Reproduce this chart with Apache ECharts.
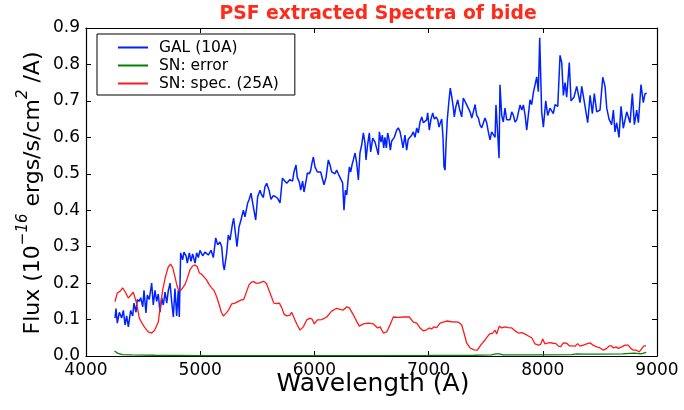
<!DOCTYPE html>
<html><head><meta charset="utf-8">
<script src="https://cdn.jsdelivr.net/npm/echarts@6/dist/echarts.min.js"></script>
<style>html,body{margin:0;padding:0;background:#fff}#c{width:684px;height:410px}</style>
</head><body><div id="c"></div>
<script>
const titleText = 'PSF extracted Spectra of bide';
const seriesNames = ['GAL (10A)', 'SN: error', 'SN: spec. (25A)'];
const xTicks = [4000, 5000, 6000, 7000, 8000, 9000];
const yTicks = [0.0, 0.1, 0.2, 0.3, 0.4, 0.5, 0.6, 0.7, 0.8, 0.9];

const galWave = [4254,4263,4274,4292,4312,4327,4342,4356,4371,4391,4409,4420,4438,4449,4467,4479,4497,4508,4525,4537,4554,4575,4589,4604,4619,4633,4648,4663,4677,4692,4707,4721,4736,4750,4765,4779,4794,4808,4817,4829,4846,4858,4876,4887,4905,4919,4934,4955,4969,4984,4998,5022,5042,
5071,5095,5115,5136,5153,5173,5188,5202,5211,5232,5246,5261,5281,5293,5311,5322,5340,5357,5378,5392,5416,5427,5445,5465,5486,5503,5524,5538,5553,5567,5582,5603,5620,5640,5661,5679,5699,5720,5737,5758,5786,
5809,5821,5839,5850,5868,5880,5897,5909,5927,5938,5956,5968,5979,5991,6005,6026,6043,6055,6073,6084,6102,6122,6137,6151,6166,6180,6195,6209,6224,6239,6247,6259,6271,6283,6297,6306,6318,6329,6341,6356,6370,6385,6399,6414,6429,6443,6452,6464,6481,6493,6511,6531,
6560,6569,6583,6595,6607,6618,6630,6642,6653,6665,6677,6700,6721,6735,6750,6764,6776,6793,6808,6822,6837,6852,6866,6881,6896,6910,6925,6940,6954,6969,6983,6992,7006,7021,7036,7050,7065,7080,7091,7103,7115,7126,7135,7144,7153,7164,7179,7190,7203,7217,7225,7238,7255,7269,
7290,7304,7319,7334,7348,7363,7378,7392,7407,7421,7436,7450,7465,7479,7494,7509,7523,7538,7552,7567,7582,7590,7605,7617,7625,7640,7654,7669,7684,7698,7713,7728,7742,7757,7772,7786,7801,7816,7830,7845,7859,7874,7888,7903,7917,7932,7947,
7961,7973,7990,8005,8026,8043,8063,8092,8107,8131,8151,8166,8180,8195,8209,8232,8247,8273,8297,8326,8341,8370,8393,8414,8434,8451,8472,8501,8525,8545,8560,8580,8603,8618,8632,8647,8667,8685,8705,8735,8764,8784,8802,8822,8837,8860,8880,8895,8910];
const galFlux = [.104,.13,.09,.12,.104,.125,.085,.11,.08,.125,.11,.145,.12,.155,.15,.16,.135,.18,.118,.167,.155,.20,.14,.18,.15,.17,.12,.16,.14,.175,.145,.18,.20,.15,.107,.185,.11,.18,.107,.283,.264,.285,.275,.255,.283,.26,.28,.255,.283,.27,.29,.275,.285,
.277,.29,.27,.324,.305,.313,.30,.25,.236,.283,.332,.318,.36,.378,.33,.30,.354,.373,.40,.382,.42,.428,.447,.41,.373,.437,.455,.442,.435,.464,.474,.455,.43,.44,.437,.432,.42,.488,.484,.474,.484,
.48,.505,.524,.49,.477,.455,.48,.45,.48,.502,.50,.51,.53,.546,.519,.505,.50,.505,.483,.47,.49,.538,.524,.505,.51,.50,.51,.50,.49,.492,.475,.40,.455,.442,.49,.519,.505,.524,.538,.557,.53,.483,.557,.579,.612,.584,.538,.575,.612,.56,.598,.587,
.552,.615,.587,.606,.571,.60,.571,.612,.595,.565,.59,.60,.62,.626,.615,.593,.571,.606,.565,.595,.60,.606,.615,.60,.626,.612,.642,.656,.64,.645,.648,.667,.62,.65,.667,.65,.656,.648,.628,.64,.65,.60,.519,.51,.584,.65,.703,.735,.711,.68,.656,.683,.703,.68,
.656,.708,.711,.689,.69,.67,.653,.67,.69,.661,.653,.634,.626,.63,.653,.64,.615,.593,.615,.612,.60,.689,.61,.543,.744,.661,.642,.68,.648,.652,.648,.67,.661,.642,.648,.645,.689,.675,.689,.661,.62,.615,.703,.69,.722,.744,.766,
.725,.873,.67,.628,.70,.66,.68,.665,.69,.685,.825,.805,.715,.75,.71,.805,.70,.71,.74,.695,.74,.685,.64,.715,.665,.72,.67,.675,.765,.74,.68,.65,.635,.675,.615,.64,.60,.685,.625,.67,.64,.72,.635,.675,.64,.745,.695,.72,.72];

const snErrWave = [4250,4260,4280,4320,4400,4600,5000,5500,6000,6500,7000,7400,7550,7590,7620,7650,7800,8000,8250,8300,8350,8500,8700,8800,8860,8905];
const snErrFlux = [.014,.011,.007,.004,.003,.002,.001,.001,.001,.0012,.0015,.002,.003,.006,.006,.003,.003,.003,.004,.006,.005,.005,.006,.008,.006,.01];

const snSpecWave = [4254,4274,4300,4321,4345,4371,4395,4414,4430,4443,4467,4490,4517,4545,4575,4600,4633,4650,4671,4695,4721,4741,4760,4779,4795,4808,4830,4846,4865,4887,4910,4934,4955,4975,4992,5010,5033,5055,5080,5100,5121,5145,5167,5185,5202,5225,5249,5276,5305,5334,5360,5381,5405,5427,5450,5468,5490,5515,5535,5556,5580,5603,5625,5644,5670,5693,5715,5734,5758,5786,5801,5830,5850,5874,5903,5933,5962,5982,5999,6026,6064,6108,6151,6195,6224,6253,6283,6306,6341,6370,6393,6429,6472,6516,6554,
6575,6604,6633,6662,6691,6735,6779,6831,6866,6896,6925,6954,6983,7006,7027,7047,7071,7100,7129,7158,7202,7260,7290,7310,7334,7363,7398,7427,7456,7494,7532,7561,7582,7596,7619,7640,7669,7698,7728,7757,7786,7816,7845,7874,7903,7932,7961,7982,7999,8019,8040,8063,8092,8116,8136,8157,8180,8209,8232,8253,8282,8305,8326,8355,8384,8414,8443,8472,8501,8530,8560,8583,8603,8618,8641,8661,8691,8720,8749,8770,8793,8822,8845,8866,8886,8904];
const snSpecFlux = [.149,.173,.178,.187,.175,.159,.168,.175,.17,.145,.104,.09,.077,.066,.063,.07,.093,.135,.18,.217,.245,.252,.242,.217,.195,.183,.18,.18,.195,.213,.236,.247,.25,.245,.228,.225,.217,.209,.195,.187,.18,.162,.14,.12,.11,.117,.126,.143,.145,.15,.154,.155,.176,.195,.203,.204,.20,.20,.203,.205,.199,.18,.162,.145,.144,.145,.132,.115,.11,.112,.12,.099,.085,.071,.08,.099,.104,.10,.088,.099,.10,.107,.123,.131,.128,.126,.135,.132,.113,.095,.082,.088,.09,.088,.077,
.08,.063,.066,.085,.107,.106,.107,.107,.093,.09,.077,.069,.072,.077,.074,.08,.078,.09,.093,.096,.094,.093,.085,.063,.035,.022,.017,.016,.03,.044,.06,.063,.071,.06,.082,.077,.08,.078,.077,.069,.063,.064,.06,.055,.05,.033,.03,.032,.047,.033,.035,.037,.035,.034,.027,.026,.036,.035,.028,.028,.027,.034,.027,.03,.033,.036,.029,.025,.022,.016,.021,.028,.028,.022,.025,.021,.025,.03,.03,.021,.016,.016,.011,.02,.028,.028];

const zip = (a, b) => a.map((x, i) => [x, b[i]]);
const colors = ['#0022ff', '#008000', '#ff1a1a'];
const FONT = 'DejaVu Sans';

const chart = echarts.init(document.getElementById('c'), null, {renderer: 'canvas'});
const axisCommon = {
  type: 'value',
  axisLine: {show: true, onZero: false, lineStyle: {color: '#000', width: 1.2}},
  axisTick: {show: true, inside: true, length: 5, lineStyle: {color: '#000', width: 1}},
  splitLine: {show: false}
};
chart.setOption({
  animation: false,
  backgroundColor: '#fff',
  title: {
    text: titleText, left: 373, top: 0, textAlign: 'center',
    textStyle: {color: '#ff2a1a', fontFamily: FONT, fontWeight: 'bold', fontSize: 18.8}
  },
  grid: {left: 86, right: 27, top: 28, bottom: 54},
  legend: {
    orient: 'vertical', left: 97, top: 34,
    data: seriesNames,
    icon: 'rect', itemWidth: 30, itemHeight: 2, itemGap: 1,
    padding: [5, 16, 3, 21],
    borderColor: '#000', borderWidth: 1, backgroundColor: '#fff',
    textStyle: {fontFamily: FONT, fontSize: 15.5, color: '#000', lineHeight: 17, padding: [0, 0, 0, 6]}
  },
  xAxis: [
    Object.assign({}, axisCommon, {
      position: 'bottom', min: xTicks[0], max: xTicks[xTicks.length - 1], interval: 1000,
      axisLabel: {show: true, margin: 6, color: '#000', fontFamily: FONT, fontSize: 17,
        formatter: v => String(v)}
    }),
    Object.assign({}, axisCommon, {
      position: 'top', min: xTicks[0], max: xTicks[xTicks.length - 1], interval: 1000,
      axisLabel: {show: false}
    })
  ],
  yAxis: [
    Object.assign({}, axisCommon, {
      position: 'left', min: yTicks[0], max: yTicks[yTicks.length - 1], interval: 0.1,
      axisLabel: {show: true, margin: 6, color: '#000', fontFamily: FONT, fontSize: 17,
        formatter: v => v.toFixed(1)}
    }),
    Object.assign({}, axisCommon, {
      position: 'right', min: yTicks[0], max: yTicks[yTicks.length - 1], interval: 0.1,
      axisLabel: {show: false}
    })
  ],
  series: [
    {name: seriesNames[0], type: 'line', data: zip(galWave, galFlux), showSymbol: false, symbol: 'none',
      lineStyle: {color: colors[0], width: 1.5}, itemStyle: {color: colors[0]}, z: 3},
    {name: seriesNames[1], type: 'line', data: zip(snErrWave, snErrFlux), showSymbol: false, symbol: 'none',
      lineStyle: {color: colors[1], width: 1.3}, itemStyle: {color: colors[1]}, z: 4},
    {name: seriesNames[2], type: 'line', data: zip(snSpecWave, snSpecFlux), showSymbol: false, symbol: 'none',
      lineStyle: {color: colors[2], width: 1.3}, itemStyle: {color: colors[2]}, z: 5}
  ],
  graphic: [
    {type: 'text', x: 373, y: 384, style: {text: 'Wavelength (A)', fontFamily: FONT, fontSize: 25,
      fill: '#000', align: 'center', verticalAlign: 'middle'}},
    {type: 'text', x: 30, y: 193, rotation: Math.PI / 2,
      style: {
        text: '{a|Flux (10}{s|\u221216}{a| ergs/s/cm}{s|2}{a| /A)}',
        align: 'center', verticalAlign: 'middle', fill: '#000',
        rich: {
          a: {fontFamily: FONT, fontSize: 22, lineHeight: 28, verticalAlign: 'bottom'},
          s: {fontFamily: FONT, fontSize: 15, lineHeight: 28, verticalAlign: 'top', fontStyle: 'italic'}
        }
      }}
  ]
});
</script>
</body></html>
